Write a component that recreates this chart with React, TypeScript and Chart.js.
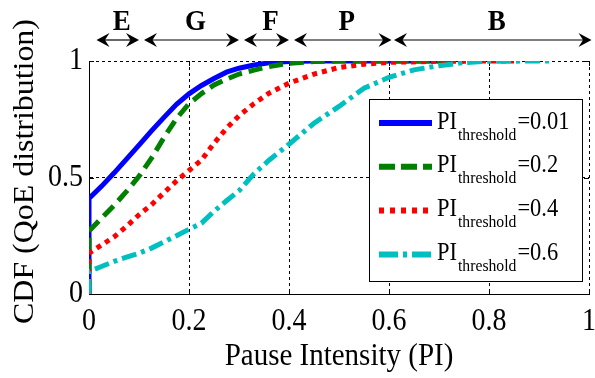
import React, { useEffect, useRef } from 'react';
import { Chart, registerables } from 'chart.js';

Chart.register(...registerables);

// ---- data ----
const xTicks = [0, 0.2, 0.4, 0.6, 0.8, 1];
const xTickLabels = ['0', '0.2', '0.4', '0.6', '0.8', '1'];
const yTicks = [0, 0.5, 1];
const yTickLabels = ['0', '0.5', '1'];

const thresholds = ['0.01', '0.2', '0.4', '0.6'];
const seriesColors = ['#0000ff', '#008000', '#ff0000', '#00bfbf'];

const x001 = [0, 0, 0.025, 0.05, 0.075, 0.1, 0.125, 0.15, 0.175, 0.2, 0.225, 0.25, 0.275, 0.3, 0.33, 0.36, 0.4, 0.45, 0.55, 0.7];
const y001 = [0, 0.41, 0.462, 0.519, 0.579, 0.639, 0.7, 0.758, 0.814, 0.859, 0.895, 0.925, 0.952, 0.969, 0.983, 0.992, 0.998, 1, 1, 1];

const x02 = [0, 0, 0.025, 0.05, 0.075, 0.1, 0.125, 0.15, 0.175, 0.2, 0.225, 0.25, 0.275, 0.3, 0.33, 0.36, 0.4, 0.45, 0.5, 0.6, 0.75];
const y02 = [0, 0.27, 0.326, 0.38, 0.44, 0.505, 0.583, 0.672, 0.753, 0.817, 0.86, 0.897, 0.922, 0.944, 0.961, 0.976, 0.99, 0.998, 1, 1, 1];

const x04 = [0, 0, 0.025, 0.05, 0.075, 0.1, 0.125, 0.15, 0.175, 0.2, 0.225, 0.25, 0.275, 0.3, 0.33, 0.36, 0.4, 0.45, 0.5, 0.55, 0.6, 0.7, 0.85];
const y04 = [0, 0.175, 0.21, 0.245, 0.29, 0.34, 0.383, 0.435, 0.485, 0.53, 0.575, 0.647, 0.711, 0.765, 0.817, 0.862, 0.905, 0.944, 0.972, 0.986, 0.994, 0.999, 1];

const x06 = [0, 0, 0.025, 0.05, 0.075, 0.1, 0.125, 0.15, 0.175, 0.2, 0.225, 0.25, 0.275, 0.3, 0.33, 0.36, 0.4, 0.45, 0.5, 0.55, 0.6, 0.65, 0.7, 0.75, 0.8, 0.92];
const y06 = [0, 0.097, 0.118, 0.14, 0.158, 0.175, 0.197, 0.224, 0.25, 0.278, 0.304, 0.355, 0.4, 0.443, 0.516, 0.574, 0.643, 0.733, 0.805, 0.883, 0.93, 0.962, 0.98, 0.993, 0.999, 1];

const regionLabels = ['E', 'G', 'F', 'P', 'B'];
const regionStart = [0.015, 0.11, 0.31, 0.41, 0.61];
const regionEnd = [0.1, 0.3, 0.4, 0.605, 1.005];

const xTitle = 'Pause Intensity (PI)';
const yTitle = 'CDF (QoE distribution)';

// ---- styles ----
const SERIF = '"Liberation Serif", serif';
const curveDashes = [[], [14, 7], [5, 5], [15, 5, 4, 5]];
const legendDashes = [[], [16, 6], [5, 6], [19, 5, 4, 5]];
const SY = 1.1;
const LEG = { x: 369.5, y: 99.5, w: 213, h: 182, lineX0: 379, lineX1: 432, row0: 123, rowGap: 43.8, textX: 437 };

const xs = [x001, x02, x04, x06];
const ys = [y001, y02, y04, y06];

function stretchText(ctx: CanvasRenderingContext2D, text: string, x: number, y: number, font: string,
  align: CanvasTextAlign, baseline: CanvasTextBaseline, sx = 1, sy = SY, rot = 0) {
  ctx.save();
  ctx.font = font;
  ctx.fillStyle = '#000';
  ctx.textAlign = align;
  ctx.textBaseline = baseline;
  ctx.translate(x, y);
  if (rot) ctx.rotate(rot);
  ctx.scale(sx, sy);
  ctx.fillText(text, 0, 0);
  ctx.restore();
}

function arrowHead(ctx: CanvasRenderingContext2D, tipX: number, y: number, dir: number) {
  const L = 13, H = 7;
  ctx.beginPath();
  ctx.moveTo(tipX, y);
  ctx.lineTo(tipX - dir * L, y - H);
  ctx.lineTo(tipX - dir * L * 0.65, y);
  ctx.lineTo(tipX - dir * L, y + H);
  ctx.closePath();
  ctx.fill();
}

const decorPlugin = {
  id: 'decor',
  beforeDatasetsDraw(chart: any) {
    const ctx: CanvasRenderingContext2D = chart.ctx;
    const { left, right, top, bottom } = chart.chartArea;
    const xs_ = chart.scales.x, ys_ = chart.scales.y;
    ctx.save();
    ctx.strokeStyle = '#000';
    ctx.lineWidth = 1;
    ctx.setLineDash([]);
    xTicks.forEach((v) => {
      const p = Math.round(xs_.getPixelForValue(v)) + 0.5;
      ctx.beginPath();
      ctx.moveTo(p, bottom); ctx.lineTo(p, bottom - 5);
      ctx.moveTo(p, top); ctx.lineTo(p, top + 5);
      ctx.stroke();
    });
    yTicks.forEach((v) => {
      const p = Math.round(ys_.getPixelForValue(v)) + 0.5;
      ctx.beginPath();
      ctx.moveTo(left, p); ctx.lineTo(left + 5, p);
      ctx.moveTo(right, p); ctx.lineTo(right - 5, p);
      ctx.stroke();
    });
    ctx.restore();
  },
  afterDraw(chart: any) {
    const ctx: CanvasRenderingContext2D = chart.ctx;
    const { left, right, top, bottom } = chart.chartArea;
    const sx = chart.scales.x, sy = chart.scales.y;

    // tick labels
    xTicks.forEach((v, i) => {
      stretchText(ctx, xTickLabels[i], sx.getPixelForValue(v), bottom + 36, `28px ${SERIF}`, 'center', 'alphabetic');
    });
    yTicks.forEach((v, i) => {
      stretchText(ctx, yTickLabels[i], left - 6, sy.getPixelForValue(v), `28px ${SERIF}`, 'right', 'middle');
    });

    // axis titles
    stretchText(ctx, xTitle, (left + right) / 2, bottom + 71, `29px ${SERIF}`, 'center', 'alphabetic');
    stretchText(ctx, yTitle, 33, (top + bottom) / 2 - 6, `29px ${SERIF}`, 'center', 'alphabetic', SY, 1, -Math.PI / 2);

    // region arrows
    ctx.save();
    ctx.fillStyle = '#000';
    ctx.strokeStyle = '#000';
    ctx.lineWidth = 1.2;
    const ay = 40;
    regionLabels.forEach((lab, i) => {
      const a = sx.getPixelForValue(regionStart[i]);
      const b = sx.getPixelForValue(regionEnd[i]);
      ctx.beginPath();
      ctx.moveTo(a + 6, ay); ctx.lineTo(b - 6, ay);
      ctx.stroke();
      arrowHead(ctx, a, ay, -1);
      arrowHead(ctx, b, ay, 1);
      stretchText(ctx, lab, (a + b) / 2 + 4, 30, `bold 27px ${SERIF}`, 'center', 'alphabetic');
    });
    ctx.restore();

    // legend
    ctx.save();
    ctx.fillStyle = '#fff';
    ctx.fillRect(LEG.x, LEG.y, LEG.w, LEG.h);
    ctx.strokeStyle = '#000';
    ctx.lineWidth = 1;
    ctx.setLineDash([]);
    ctx.strokeRect(LEG.x, LEG.y, LEG.w, LEG.h);
    thresholds.forEach((t, i) => {
      const ly = LEG.row0 + i * LEG.rowGap;
      ctx.save();
      ctx.strokeStyle = seriesColors[i];
      ctx.lineWidth = 6;
      ctx.setLineDash(legendDashes[i]);
      ctx.beginPath();
      ctx.moveTo(LEG.lineX0, ly); ctx.lineTo(LEG.lineX1, ly);
      ctx.stroke();
      ctx.restore();
      let tx = LEG.textX;
      ctx.font = `22.5px ${SERIF}`;
      const wPI = ctx.measureText('PI').width;
      stretchText(ctx, 'PI', tx, ly + 5.5, `22.5px ${SERIF}`, 'left', 'alphabetic');
      tx += wPI + 1;
      ctx.font = `15.7px ${SERIF}`;
      const wSub = ctx.measureText('threshold').width;
      stretchText(ctx, 'threshold', tx, ly + 16.5, `15.7px ${SERIF}`, 'left', 'alphabetic');
      tx += wSub + 1;
      stretchText(ctx, '=' + t, tx, ly + 5.5, `22.5px ${SERIF}`, 'left', 'alphabetic');
    });
    ctx.restore();
  },
};

export default function App() {
  const ref = useRef<HTMLCanvasElement>(null);
  useEffect(() => {
    document.body.style.margin = '0';
    const datasets = xs.map((xa, i) => ({
      label: 'PI_threshold=' + thresholds[i],
      data: xa.map((x, j) => ({ x, y: ys[i][j] })),
      borderColor: seriesColors[i],
      backgroundColor: seriesColors[i],
      borderWidth: 5,
      borderDash: curveDashes[i],
      pointRadius: 0,
      tension: 0,
      fill: false,
    }));
    const chart = new Chart(ref.current as HTMLCanvasElement, {
      type: 'line',
      data: { datasets: datasets.slice().reverse() },
      options: {
        responsive: false,
        animation: false,
        devicePixelRatio: 1,
        layout: { padding: { left: 0, top: 61, right: 6, bottom: 0 } },
        plugins: { legend: { display: false }, tooltip: { enabled: false }, title: { display: false } },
        scales: {
          x: {
            type: 'linear', min: 0, max: 1,
            afterBuildTicks: (s: any) => { s.ticks = xTicks.map((v) => ({ value: v })); },
            afterFit: (s: any) => { s.height = 84; },
            ticks: { display: false },
            grid: { color: '#000', lineWidth: 1, drawTicks: false },
            border: { display: true, color: '#000', width: 1, dash: [3, 3] },
          },
          y: {
            type: 'linear', min: 0, max: 1,
            afterBuildTicks: (s: any) => { s.ticks = yTicks.map((v) => ({ value: v })); },
            afterFit: (s: any) => { s.width = 89; },
            ticks: { display: false },
            grid: { color: '#000', lineWidth: 1, drawTicks: false },
            border: { display: true, color: '#000', width: 1, dash: [3, 3] },
          },
        },
      } as any,
      plugins: [decorPlugin as any],
    });
    return () => { chart.destroy(); };
  }, []);
  return (
    <div style={{ width: 595, height: 378 }}>
      <canvas ref={ref} width={595} height={378} style={{ display: 'block', width: 595, height: 378 }} />
    </div>
  );
}
